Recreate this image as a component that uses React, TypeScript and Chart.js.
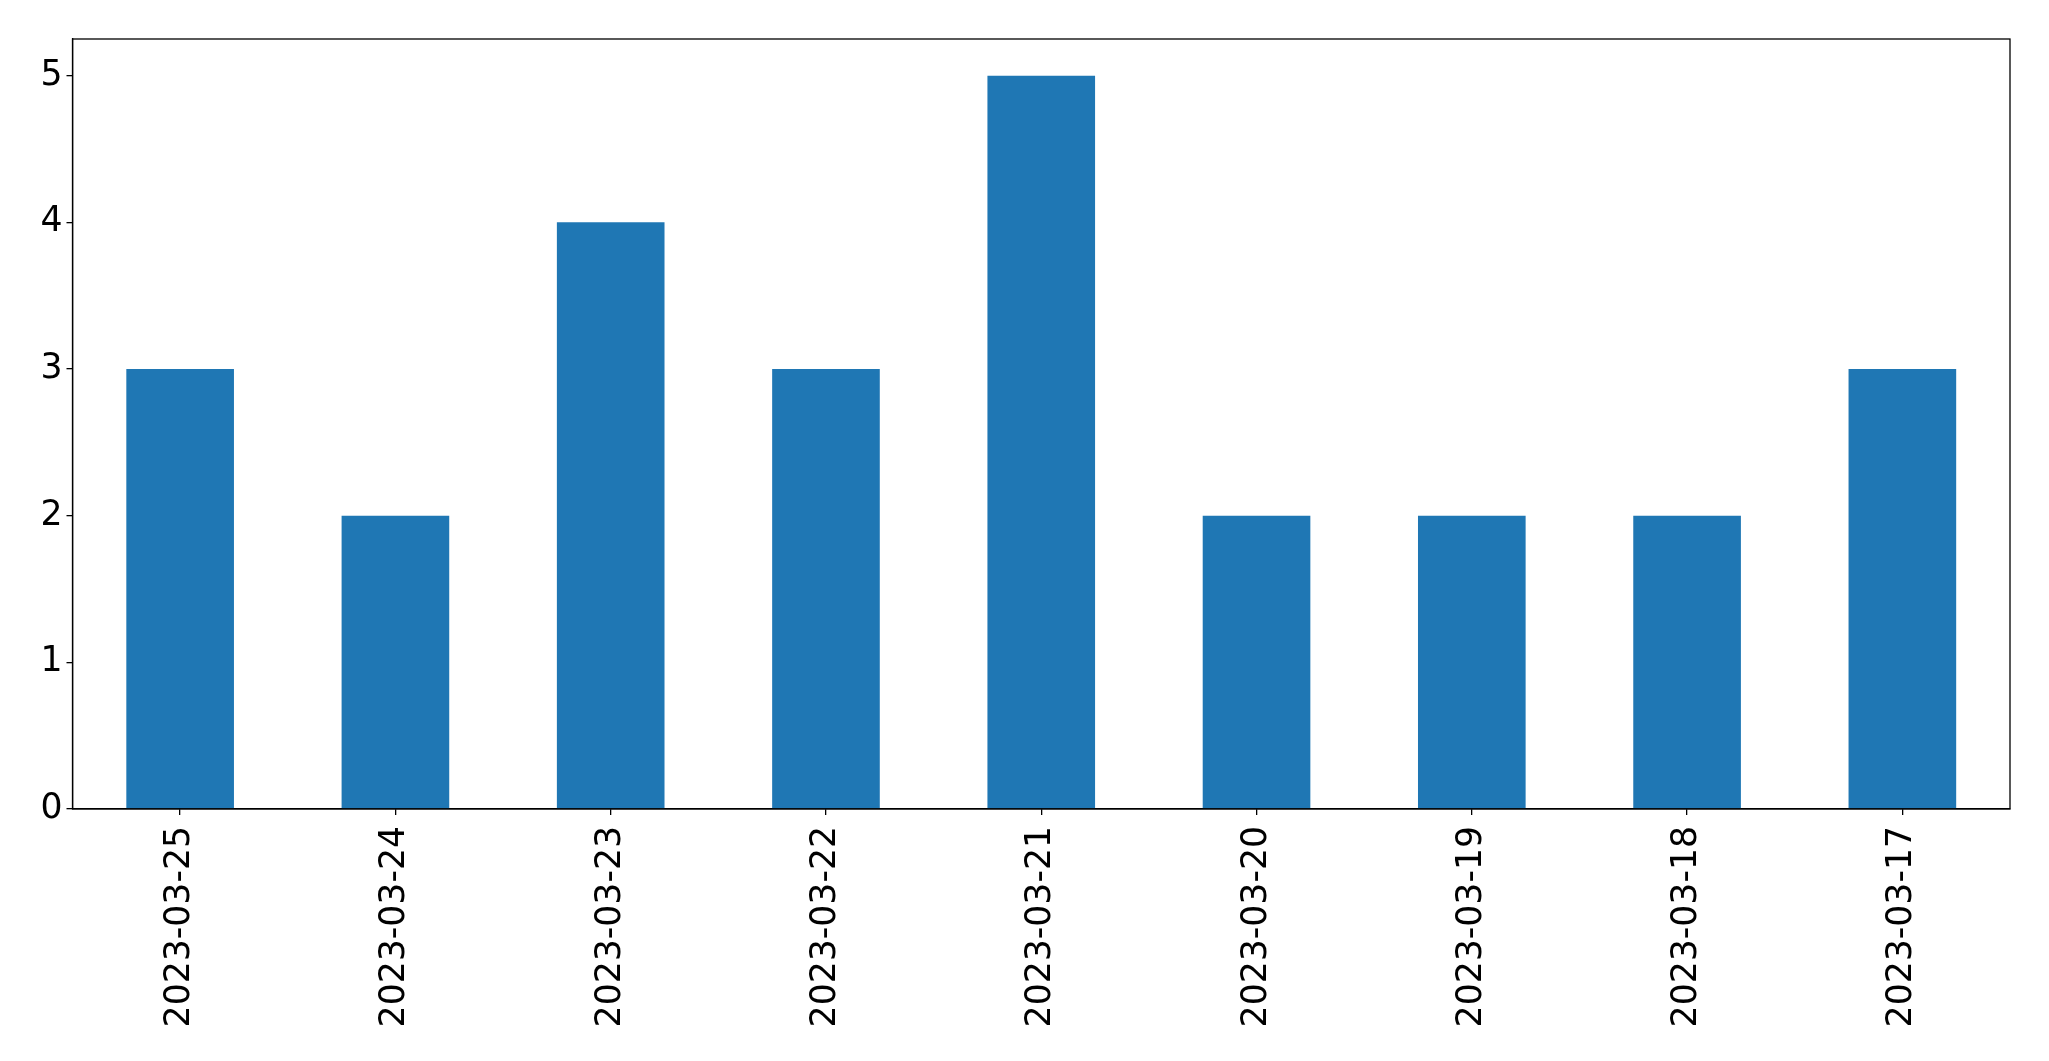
import React, { useEffect, useRef } from "react";
import { Chart, registerables } from "chart.js";

Chart.register(...registerables);

const categories = [
  "2023-03-25",
  "2023-03-24",
  "2023-03-23",
  "2023-03-22",
  "2023-03-21",
  "2023-03-20",
  "2023-03-19",
  "2023-03-18",
  "2023-03-17",
];
const counts = [3, 2, 4, 3, 5, 2, 2, 2, 3];
const yTicks = [0, 1, 2, 3, 4, 5];

const W = 2049;
const H = 1061;
const FONT = "'DejaVu Sans', sans-serif";

const framePlugin = {
  id: "frame",
  afterDraw(chart: any) {
    const { ctx, chartArea } = chart;
    ctx.save();
    ctx.strokeStyle = "#000";
    ctx.lineWidth = 1.3;
    ctx.strokeRect(chartArea.left, chartArea.top, chartArea.right - chartArea.left, chartArea.bottom - chartArea.top);
    ctx.restore();
  },
};

export default function App() {
  const ref = useRef<HTMLCanvasElement | null>(null);
  useEffect(() => {
    if (!ref.current) return;
    const chart = new Chart(ref.current, {
      type: "bar",
      data: {
        labels: categories,
        datasets: [
          {
            data: counts,
            backgroundColor: "#1f77b4",
            borderWidth: 0,
            categoryPercentage: 1,
            barPercentage: 0.5,
          },
        ],
      },
      options: {
        responsive: false,
        animation: false,
        devicePixelRatio: 1,
        layout: { padding: { top: 39, right: 39, left: 0, bottom: 0 } },
        plugins: { legend: { display: false }, tooltip: { enabled: false } },
        scales: {
          x: {
            offset: true,
            grid: { display: true, offset: false, drawOnChartArea: false, drawTicks: true, tickLength: 6, color: "#000", lineWidth: 1.3 },
            border: { display: true, color: "#000", width: 1.3 },
            ticks: {
              color: "#000",
              font: { family: FONT, size: 34.67 },
              minRotation: 90,
              maxRotation: 90,
              padding: 11,
              autoSkip: false,
            },
            afterFit(scale: any) {
              scale.height = 252;
            },
          },
          y: {
            min: 0,
            max: 5.25,
            afterBuildTicks(scale: any) {
              scale.ticks = yTicks.map((v) => ({ value: v }));
            },
            grid: { display: true, drawOnChartArea: false, drawTicks: true, tickLength: 6, color: "#000", lineWidth: 1.3 },
            border: { display: true, color: "#000", width: 1.3 },
            ticks: {
              color: "#000",
              font: { family: FONT, size: 34.67 },
              padding: 4,
              callback: (v: any) => String(v),
            },
            afterFit(scale: any) {
              scale.width = 72.5;
            },
          },
        },
      },
      plugins: [framePlugin],
    });
    return () => chart.destroy();
  }, []);
  return (
    <div style={{ position: "fixed", left: 0, top: 0, width: W, height: H, background: "#fff" }}>
      <canvas ref={ref} width={W} height={H} style={{ display: "block", width: W, height: H }} />
    </div>
  );
}
